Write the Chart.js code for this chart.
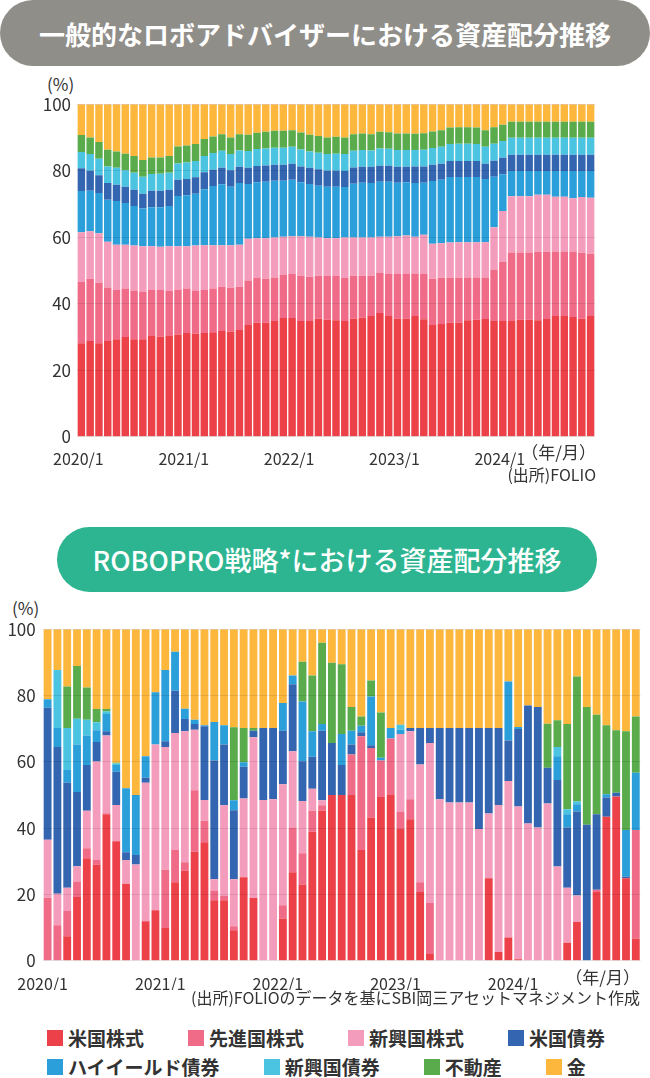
<!DOCTYPE html>
<html lang="ja">
<head>
<meta charset="utf-8">
<script src="https://cdn.jsdelivr.net/npm/chart.js@4.4.1/dist/chart.umd.min.js"></script>
<style>
  body {
    margin: 0;
    width: 650px;
    height: 1078px;
    overflow: hidden;
    position: relative;
    background: #fff;
    font-family: "Noto Sans CJK JP", sans-serif;
    color: #333;
  }
  .pill {
    position: absolute;
    display: flex;
    align-items: center;
    justify-content: center;
    color: #fff;
    white-space: nowrap;
  }
  #titleTop { left: 0; top: 0; width: 650px; height: 66px; border-radius: 33px; background: #8f8e89; font-size: 26px; font-weight: bold; }
  #titleBottom { left: 57px; top: 527px; width: 540px; height: 65px; border-radius: 33px; background: #2db591; font-size: 27px; font-weight: 500; }
  .txt { position: absolute; font-size: 17px; line-height: 20px; white-space: nowrap; }
  .src { font-size: 16px; }
  canvas { position: absolute; left: 0; }
  #chartTop { top: 88px; }
  #chartBottom { top: 612px; }
  #legend { position: absolute; left: 47px; top: 1023px; }
  .legendRow { display: flex; gap: 44px; height: 29px; align-items: center; }
  .legendItem { display: flex; align-items: center; font-size: 19px; font-weight: bold; color: #333; }
  .legendItem span { display: inline-block; width: 16px; height: 16px; margin-right: 5px; }
</style>
</head>
<body>
<div class="pill" id="titleTop">一般的なロボアドバイザーにおける資産配分推移</div>
<div class="txt" style="left:47px; top:74px;">(%)</div>
<canvas id="chartTop" width="650" height="382"></canvas>
<div class="txt" style="right:54px; top:442px;">（年/月）</div>
<div class="txt src" style="right:54px; top:464px;">(出所)FOLIO</div>

<div class="pill" id="titleBottom">ROBOPRO戦略*における資産配分推移</div>
<div class="txt" style="left:12px; top:598px;">(%)</div>
<canvas id="chartBottom" width="650" height="378"></canvas>
<div class="txt" style="right:10px; top:967px;">（年/月）</div>
<div class="txt src" style="right:10px; top:987px;">(出所)FOLIOのデータを基にSBI岡三アセットマネジメント作成</div>

<div id="legend"></div>

<script>
const seriesNames = ['米国株式', '先進国株式', '新興国株式', '米国債券', 'ハイイールド債券', '新興国債券', '不動産', '金']
const seriesColors = ['#ec4149', '#f06b88', '#f49cbc', '#3465b0', '#2a9fd9', '#4ac4e1', '#5aab4b', '#fdb73d']

// 一般的なロボアドバイザー (2020/1 - 2024/11)
const roboUsStock = [28.1, 28.8, 28.1, 28.8, 29.3, 30.0, 29.3, 29.3, 30.3, 30.1, 30.3, 30.7, 31.2, 31.0, 31.2, 31.4, 31.8, 31.6, 32.1, 33.6, 34.3, 34.3, 34.8, 35.7, 35.7, 34.8, 34.8, 35.5, 35.2, 35.0, 34.8, 35.5, 35.8, 36.3, 37.2, 36.3, 35.5, 35.5, 36.3, 35.3, 33.6, 33.9, 34.3, 34.3, 35.0, 35.2, 35.4, 34.8, 34.8, 34.8, 35.2, 35.2, 35.0, 35.4, 36.3, 36.3, 36.0, 35.5, 36.3]
const roboDevStock = [18.4, 18.7, 18.2, 16.1, 14.8, 14.6, 14.7, 14.2, 13.8, 14.0, 13.5, 13.6, 13.4, 13.0, 12.9, 13.2, 13.3, 13.2, 13.0, 13.4, 13.4, 13.2, 13.1, 12.9, 13.2, 13.6, 13.3, 12.9, 13.1, 13.3, 12.9, 12.9, 12.6, 12.1, 12.0, 12.6, 13.4, 13.4, 12.8, 13.6, 13.9, 13.9, 13.5, 13.5, 12.9, 12.7, 12.5, 15.5, 17.8, 20.6, 20.2, 20.2, 20.6, 20.2, 19.4, 19.4, 19.7, 19.8, 18.7]
const roboEmStock = [15.0, 14.3, 14.9, 13.7, 13.6, 13.1, 13.5, 13.8, 13.2, 13.0, 13.5, 13.0, 12.7, 13.5, 13.5, 13.0, 12.5, 12.8, 12.6, 12.5, 12.0, 12.2, 12.0, 11.5, 11.4, 11.9, 12.0, 11.5, 11.4, 11.4, 12.2, 11.5, 11.5, 11.5, 10.9, 11.2, 11.4, 11.6, 11.0, 11.8, 10.5, 10.4, 10.6, 10.7, 10.6, 10.6, 10.6, 12.7, 15.3, 16.9, 16.9, 16.9, 17.2, 17.2, 16.5, 16.5, 16.0, 16.8, 16.9]
const roboUsBond = [6.8, 6.0, 5.3, 5.0, 4.9, 4.9, 4.9, 4.5, 5.0, 5.0, 4.9, 4.9, 4.9, 4.9, 5.1, 4.9, 5.0, 4.9, 4.9, 4.9, 4.9, 4.9, 4.8, 4.8, 4.8, 4.8, 4.9, 4.9, 4.8, 4.8, 4.8, 4.9, 4.8, 4.9, 4.8, 4.8, 4.8, 4.7, 5.0, 4.9, 4.9, 4.8, 4.8, 4.8, 4.8, 4.8, 4.6, 4.8, 5.0, 4.9, 4.9, 4.9, 4.9, 4.9, 4.9, 4.9, 4.9, 4.9, 4.9]
const roboHighYield = [12.4, 12.2, 12.1, 12.7, 13.2, 12.6, 11.9, 11.3, 11.7, 11.9, 12.1, 15.1, 15.3, 15.6, 16.8, 17.8, 18.3, 17.6, 18.6, 16.5, 16.8, 17.0, 17.1, 16.9, 17.0, 16.2, 15.9, 15.6, 15.5, 15.5, 15.2, 16.2, 16.5, 16.4, 16.6, 16.6, 16.1, 16.0, 16.2, 15.7, 18.9, 19.1, 19.7, 19.6, 19.6, 19.6, 19.0, 15.2, 11.0, 7.6, 7.6, 7.6, 7.1, 7.1, 7.7, 7.7, 8.2, 7.8, 8.0]
const roboEmBond = [4.9, 5.0, 5.0, 5.0, 5.1, 4.9, 5.1, 5.1, 5.0, 5.1, 5.1, 4.9, 5.0, 4.9, 4.9, 5.0, 5.1, 4.9, 4.9, 5.0, 5.1, 5.1, 5.1, 5.1, 5.1, 5.1, 4.9, 5.0, 5.0, 5.1, 5.1, 5.0, 5.0, 4.9, 5.2, 5.1, 5.0, 5.0, 4.9, 5.0, 5.0, 5.1, 5.1, 5.2, 5.2, 5.1, 5.1, 5.1, 5.0, 5.1, 5.1, 5.1, 5.1, 5.1, 5.1, 5.1, 5.1, 5.1, 5.1]
const roboReit = [5.1, 5.0, 5.0, 5.0, 4.9, 5.0, 5.0, 5.0, 5.0, 4.9, 5.0, 5.1, 5.1, 5.1, 5.1, 5.0, 5.0, 5.0, 4.9, 4.9, 4.9, 5.0, 5.1, 5.1, 5.0, 5.1, 5.0, 5.0, 5.0, 5.1, 5.0, 5.0, 5.0, 4.9, 5.0, 5.0, 5.0, 5.0, 4.9, 5.0, 5.0, 5.0, 5.0, 5.0, 5.0, 5.0, 5.0, 5.0, 4.9, 4.8, 4.8, 4.8, 4.8, 4.8, 4.8, 4.8, 4.8, 4.8, 4.8]
const roboGold = [9.3, 10.0, 11.4, 13.7, 14.2, 14.9, 15.6, 16.8, 16.0, 16.0, 15.6, 12.7, 12.4, 12.0, 10.5, 9.7, 9.0, 10.0, 9.0, 9.2, 8.6, 8.3, 8.0, 8.0, 7.8, 8.5, 9.2, 9.6, 10.0, 9.8, 10.0, 9.0, 8.8, 9.0, 8.3, 8.4, 8.8, 8.8, 8.9, 8.7, 8.2, 7.8, 7.0, 6.9, 6.9, 7.0, 7.8, 6.9, 6.2, 5.3, 5.3, 5.3, 5.3, 5.3, 5.3, 5.3, 5.3, 5.3, 5.3]

// ROBOPRO戦略 (2020/1 - 2025/1)
const proUsStock = [0, 0, 7.4, 19.2, 30.9, 29.0, 44.2, 36.0, 23.2, 0, 11.9, 15.2, 9.9, 23.7, 27.2, 32.9, 35.7, 18.2, 18.2, 9.2, 25.2, 18.9, 0, 0, 12.7, 26.7, 23.0, 38.9, 45.2, 50.0, 50.0, 50.0, 33.4, 43.2, 49.4, 50.0, 39.7, 42.7, 20.7, 2.0, 0, 0, 0, 0, 0, 24.9, 2.6, 7.0, 0.4, 0, 0, 0, 0, 5.4, 11.7, 0, 20.7, 43.4, 49.5, 24.9, 6.7]
const proDevStock = [19.0, 10.7, 7.6, 4.7, 3.0, 1.4, 0.3, 0, 0, 0, 0, 0, 17.5, 9.7, 2.5, 18.5, 6.5, 3.0, 1.5, 1.2, 0, 0, 0, 0, 4.0, 13.5, 9.4, 6.3, 1.7, 0, 0, 12.2, 34.3, 21.0, 11.0, 17.0, 5.3, 6.0, 3.0, 15.4, 0, 0, 0, 0, 0, 0, 0, 0, 0, 0, 0, 0, 0, 0, 0, 0, 0.7, 0, 0, 0, 32.7]
const proEmStock = [17.5, 9.5, 7.0, 4.6, 11.3, 29.7, 23.4, 11.0, 7.2, 29.0, 41.8, 50.0, 37.1, 35.3, 39.5, 18.3, 6.3, 3.4, 27.2, 14.2, 23.7, 48.5, 48.5, 48.7, 36.5, 23.0, 15.8, 6.7, 1.5, 0, 0, 0, 0, 0, 0, 0, 23.4, 20.5, 35.5, 48.3, 48.7, 47.7, 47.7, 47.7, 39.7, 19.5, 44.4, 47.2, 46.1, 41.4, 40.2, 47.4, 28.4, 16.6, 8.0, 0, 0, 0, 0, 0, 0]
const proUsBond = [39.8, 44.3, 31.7, 22.4, 13.8, 5.9, 1.3, 10.0, 2.3, 2.9, 1.5, 0, 1.7, 12.7, 3.7, 1.7, 22.2, 35.8, 18.3, 20.8, 9.6, 2.0, 21.7, 21.5, 16.2, 20.2, 12.0, 9.6, 21.0, 15.7, 9.0, 3.0, 1.2, 0.8, 0, 0, 0, 1.0, 11.0, 4.5, 21.5, 22.5, 22.5, 22.5, 30.5, 25.8, 23.2, 12.2, 23.4, 35.6, 36.3, 10.8, 26.1, 18.2, 25.3, 41.0, 22.8, 5.8, 1.2, 0.5, 0]
const proHighYield = [2.6, 5.7, 3.8, 14.3, 8.9, 3.5, 5.2, 2.0, 19.3, 18.1, 6.5, 15.8, 21.5, 11.8, 3.1, 1.3, 0.3, 11.6, 5.8, 3.0, 1.4, 0, 0, 0, 8.3, 2.6, 18.0, 7.7, 2.0, 0, 9.4, 4.2, 2.0, 14.7, 0.8, 3.2, 1.3, 0, 0, 0, 0, 0, 0, 0, 0, 0, 0, 17.8, 0.6, 0, 0, 0, 7.2, 4.0, 2.2, 0, 0, 1.0, 0, 14.0, 17.3]
const proEmBond = [0, 17.5, 12.7, 7.8, 4.8, 2.4, 0.8, 0.5, 0, 0, 0, 0, 0, 0, 0, 0, 0, 0, 0, 0, 0, 0, 0, 0, 0, 0, 0, 0, 0, 0, 0, 0, 0, 0, 0, 0, 1.5, 0, 0, 0, 0, 0, 0, 0, 0, 0, 0, 0, 0, 0, 0, 0, 2.8, 1.5, 0.8, 0, 0, 0, 0, 0, 0]
const proReit = [0, 0, 12.5, 15.9, 9.7, 4.0, 0.7, 0.2, 0, 0, 0, 0, 0, 0, 0, 0, 0, 0, 0, 22.0, 10.3, 0.8, 0, 0, 0, 0, 12.0, 16.8, 24.5, 24.2, 21.0, 7.1, 2.8, 4.8, 13.7, 0, 0, 0, 0, 0, 0, 0, 0, 0, 0, 0, 0, 0, 0, 0, 0, 13.3, 8.0, 25.7, 37.7, 35.5, 30.0, 20.8, 18.8, 29.8, 17.0]
const proGold = [21.1, 12.3, 17.3, 11.1, 17.6, 24.1, 24.1, 40.3, 48.0, 50.0, 38.3, 19.0, 12.3, 6.8, 24.0, 27.3, 29.0, 28.0, 29.0, 29.6, 29.8, 29.8, 29.8, 29.8, 22.3, 14.0, 9.8, 14.0, 4.1, 10.1, 10.6, 23.5, 26.3, 15.5, 25.1, 29.8, 28.8, 29.8, 29.8, 29.8, 29.8, 29.8, 29.8, 29.8, 29.8, 29.8, 29.8, 15.8, 29.5, 23.0, 23.5, 28.5, 27.5, 28.6, 14.3, 23.5, 25.8, 29.0, 30.5, 30.8, 26.3]

const yTicks = [0, 20, 40, 60, 80, 100]
const xTickLabels = ['2020/1', '2021/1', '2022/1', '2023/1', '2024/1']

function monthLabels (year, count) {
  const labels = []
  for (let i = 0; i < count; i++) {
    labels.push((year + Math.floor(i / 12)) + '/' + (i % 12 + 1))
  }
  return labels
}

// series index order of the stack, bottom to top
function buildDatasets (values, order) {
  return order.map(i => ({
    label: seriesNames[i],
    data: values[i],
    backgroundColor: seriesColors[i],
    borderWidth: 0
  }))
}

Chart.defaults.font.family = '"Noto Sans CJK JP", sans-serif'
Chart.defaults.font.size = 17
Chart.defaults.color = '#333'

function makeChart (id, labels, datasets, box) {
  return new Chart(document.getElementById(id), {
    type: 'bar',
    data: { labels, datasets },
    options: {
      responsive: false,
      animation: false,
      layout: { padding: { top: box.top, right: box.right, left: 0, bottom: 0 } },
      datasets: {
        bar: { barPercentage: 1, categoryPercentage: box.barFill }
      },
      plugins: {
        legend: { display: false },
        tooltip: { enabled: false }
      },
      scales: {
        x: {
          stacked: true,
          grid: { display: false },
          border: { display: false },
          ticks: {
            autoSkip: false,
            maxRotation: 0,
            padding: box.xPad,
            labelOffset: box.labelShift,
            font: { size: 16 },
            callback: function (value) {
              const l = this.getLabelForValue(value)
              return xTickLabels.includes(l) ? l : ''
            }
          },
          afterFit: (s) => { s.height = box.xHeight }
        },
        y: {
          stacked: true,
          min: 0,
          max: 100,
          afterBuildTicks: (s) => { s.ticks = yTicks.map(v => ({ value: v })) },
          grid: { color: 'rgba(0,0,0,0.09)', drawTicks: false, z: 1 },
          border: { display: false },
          ticks: { padding: box.yPad },
          afterFit: (s) => { s.width = box.yWidth }
        }
      }
    }
  })
}

makeChart('chartTop', monthLabels(2020, roboUsStock.length),
  buildDatasets([roboUsStock, roboDevStock, roboEmStock, roboUsBond, roboHighYield, roboEmBond, roboReit, roboGold], [0, 1, 2, 4, 3, 5, 6, 7]),
  { top: 12.7, right: 55, yWidth: 77, yPad: 6, xHeight: 33.3, xPad: 5, labelShift: -3, barFill: 0.85 })

makeChart('chartBottom', monthLabels(2020, proUsStock.length),
  buildDatasets([proUsStock, proDevStock, proEmStock, proUsBond, proHighYield, proEmBond, proReit, proGold], [0, 1, 2, 3, 4, 5, 6, 7]),
  { top: 15.3, right: 9.3, yWidth: 42.7, yPad: 7, xHeight: 29.3, xPad: 6, labelShift: -5, barFill: 0.8 })

// legend, two rows of four
const legendEl = document.getElementById('legend')
;[[0, 1, 2, 3], [4, 5, 6, 7]].forEach(row => {
  let html = '<div class="legendRow">'
  row.forEach(i => {
    html += `<div class="legendItem"><span style="background:${seriesColors[i]}"></span>${seriesNames[i]}</div>`
  })
  legendEl.innerHTML += html + '</div>'
})
</script>
</body>
</html>
